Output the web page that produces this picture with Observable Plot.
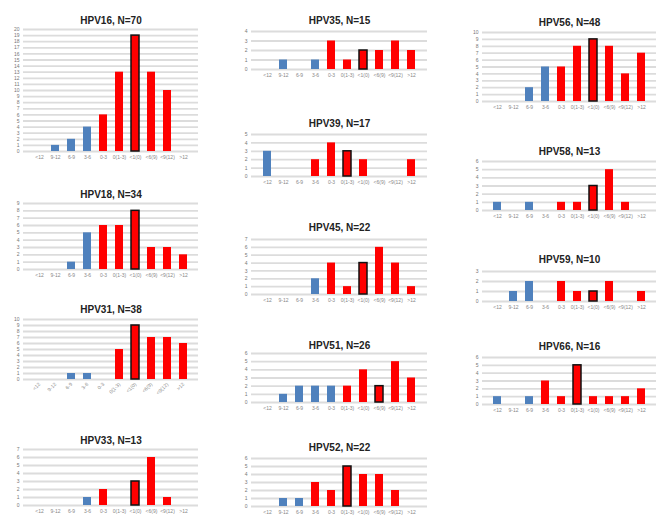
<!DOCTYPE html>
<html><head><meta charset="utf-8">
<script src="https://cdn.jsdelivr.net/npm/d3@7"></script>
<script src="https://cdn.jsdelivr.net/npm/@observablehq/plot@0.6"></script>
<style>
body{margin:0;background:#fff;}
#root{position:relative;width:665px;height:520px;overflow:hidden;font-family:"Liberation Sans",Arial,sans-serif;}
#root svg{position:absolute;overflow:visible;}
</style></head>
<body><div id="root"></div>
<script>
// categories (x-axis)
const categories = ["<12","9-12","6-9","3-6","0-3","0(1-3)","<1(0)","<6(9)","<9(12)",">12"];

// series values per HPV type
const hpv16 = [0,1,2,4,6,13,19,13,10,0];
const hpv18 = [0,0,1,5,6,6,8,3,3,2];
const hpv31 = [0,0,1,1,0,5,9,7,7,6];
const hpv33 = [0,0,0,1,2,0,3,6,1,0];
const hpv35 = [0,1,0,1,3,1,2,2,3,2];
const hpv39 = [3,0,0,2,4,3,2,0,0,2];
const hpv45 = [0,0,0,2,4,1,4,6,4,1];
const hpv51 = [0,1,2,2,2,2,4,2,5,3];
const hpv52 = [0,1,1,3,2,5,4,4,2,0];
const hpv56 = [0,0,2,5,5,8,9,8,4,7];
const hpv58 = [1,0,1,0,1,1,3,5,1,0];
const hpv59 = [0,1,2,0,2,1,1,2,0,1];
const hpv66 = [1,0,1,3,1,5,1,1,1,2];

const titles = ["HPV16, N=70","HPV18, N=34","HPV31, N=38","HPV33, N=13","HPV35, N=15","HPV39, N=17","HPV45, N=22","HPV51, N=26","HPV52, N=22","HPV56, N=48","HPV58, N=13","HPV59, N=10","HPV66, N=16"];
const series = [hpv16,hpv18,hpv31,hpv33,hpv35,hpv39,hpv45,hpv51,hpv52,hpv56,hpv58,hpv59,hpv66];
const yMax = [20,9,10,7,4,5,7,6,6,10,6,3,6];
// index of the outlined reference category for each type
const refIndex = [6,6,6,6,6,5,6,7,5,6,6,6,5];

// layout: plot left, plot right, title y, plot top, plot bottom, rotated labels
const layout = [
  [23,198,16,29,151,false],
  [23,198,190,203,269,false],
  [23,198,305,319,379,true],
  [23,198,436,449,505,false],
  [251,427,16,31,69,false],
  [251,427,119,134,176,false],
  [251,427,223,239,294,false],
  [251,427,341,353,402,false],
  [251,427,443,458,506,false],
  [482,656,18,32,101,false],
  [482,656,147,161,210,false],
  [482,656,255,271,301,false],
  [482,656,342,357,404,false]
];

const root = document.getElementById("root");
const BLUE = "#4f81bd", RED = "#ff0000";

series.forEach((vals, k) => {
  const [x0,x1,ty,top,bottom,rot] = layout[k];
  const mL = 20, mR = 6;
  const svgTop = ty - 9;
  const mT = top - svgTop;
  const mB = rot ? 26 : 14;
  const data = categories.map((c,i) => ({
    cat: c, v: vals[i],
    color: i < refIndex[k] - 2 ? BLUE : RED,
    ref: i === refIndex[k]
  }));
  const ticks = d3.range(0, yMax[k] + 1);
  const chart = Plot.plot({
    width: (x1 - x0) + mL + mR,
    height: mT + (bottom - top) + mB,
    marginLeft: mL, marginRight: mR, marginTop: mT, marginBottom: mB,
    style: {fontFamily: "Liberation Sans, Arial, sans-serif", background: "transparent"},
    x: {domain: categories, padding: 0.5, label: null},
    y: {domain: [0, yMax[k]], label: null},
    marks: [
      Plot.ruleY(ticks, {stroke: "#dcdcdc", strokeWidth: 1.8}),
      Plot.axisY({ticks, tickFormat: "d", tickSize: 0, tickPadding: 4, fontSize: 5, fill: "#777", label: null}),
      Plot.axisX({tickSize: 0, tickPadding: 4, fontSize: 5, fill: "#888", label: null,
        tickRotate: rot ? -45 : 0, textAnchor: rot ? "end" : "middle"}),
      Plot.barY(data.filter(d => d.v > 0), {x: "cat", y: "v", fill: "color",
        stroke: d => d.ref ? "#111" : "none", strokeWidth: 1.5}),
      Plot.text([titles[k]], {frameAnchor: "top", dy: 9 - mT, text: d => d,
        fontSize: 10, fontWeight: "bold", fill: "#222"})
    ]
  });
  chart.style.left = (x0 - mL) + "px";
  chart.style.top = svgTop + "px";
  root.appendChild(chart);
});
</script></body></html>
